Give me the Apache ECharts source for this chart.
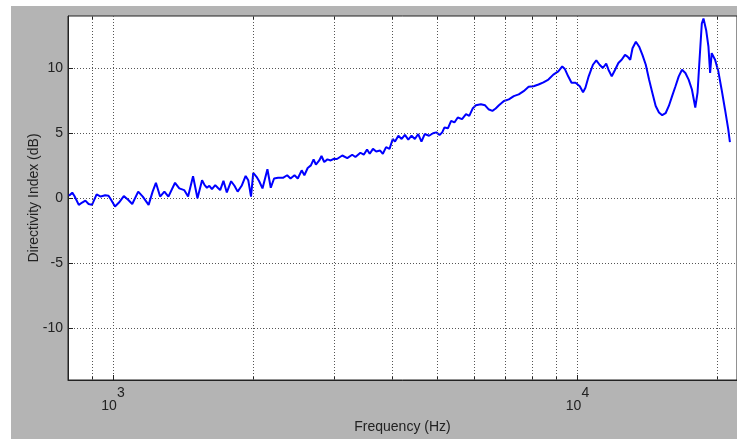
<!DOCTYPE html>
<html>
<head>
<meta charset="utf-8">
<script src="https://cdn.jsdelivr.net/npm/echarts@6/dist/echarts.min.js"></script>
<style>
html,body{margin:0;padding:0;background:#fff;}
#bg{position:absolute;left:11px;top:6px;width:726px;height:433px;background:#b4b4b4;}
#chart{position:absolute;left:0;top:0;width:737px;height:439px;}
</style>
</head>
<body>
<div id="bg"></div>
<div id="chart"></div>
<script>
// Frequency (Hz)
var freqs = [804,817,826,844,858,872,886,901,922,941,962,978,989,1010,1030,1055,1079,1100,1133,1159,1193,1217,1237,1263,1290,1316,1360,1389,1423,1451,1487,1520,
1555,1575,1593,1612,1633,1660,1681,1701,1729,1758,1796,1826,1855,1892,1930,1955,1982,2004,2037,2064,2098,2150,2186,2222,2266,2322,2371,2411,2459,2499,2548,2582,2625,2667,2703,2734,2780,2811,2849,2895,2942,2992,3035,
3116,3194,3273,3326,3409,3466,3523,3570,3628,3687,3760,3810,3872,3938,4002,4047,4115,4182,4251,4322,4393,4465,4540,4614,4689,4791,4886,4966,5047,5114,5172,5260,5345,5433,5524,5642,5754,5848,5946,
6043,6193,6325,6431,6559,6666,6775,6943,7115,7292,7473,7658,7848,8043,8243,8447,8657,8872,9092,9272,9395,9549,9709,9903,10114,10279,10400,10570,10796,10977,11157,11339,
11529,11660,11851,12050,12247,12447,12656,12818,12989,13136,13357,13576,13797,14029,14258,14491,14735,14976,15220,15476,15728,15985,16254,16519,16789,17072,17350,17634,17930,18133,18312,18520,18675,18924,19139,19299,19451,19778,20101,20429,20773,21112,21289];
// Directivity index (dB)
var dbs = [0.18,0.41,0.15,-0.53,-0.35,-0.2,-0.46,-0.53,0.28,0.11,0.21,0.18,-0.1,-0.65,-0.35,0.15,-0.15,-0.46,0.49,0.11,-0.53,0.49,1.17,0.11,0.49,0.11,1.17,0.74,0.61,0.11,1.67,-0.02,
1.37,0.99,0.79,0.94,0.68,0.99,0.79,0.61,1.32,0.43,1.29,0.94,0.49,0.94,1.7,1.37,0.11,1.93,1.63,1.29,0.74,2.21,0.79,1.5,1.55,1.55,1.75,1.5,1.75,1.5,2.13,1.75,2.31,2.51,2.97,2.56,2.89,3.23,2.77,2.97,2.89,3.02,3.0,
3.27,3.07,3.33,3.15,3.48,3.33,3.73,3.4,3.78,3.58,3.65,3.4,3.91,3.78,4.54,4.34,4.79,4.54,4.85,4.49,4.79,4.54,4.92,4.34,4.92,4.79,4.98,5.05,4.85,5.05,5.43,5.36,5.94,5.81,6.19,6.07,6.45,6.32,6.88,
7.13,7.21,7.13,6.83,6.7,6.88,7.13,7.46,7.59,7.84,7.97,8.22,8.55,8.6,8.73,8.9,9.11,9.49,9.74,10.12,9.92,9.36,8.86,8.86,8.6,8.14,8.48,9.36,10.25,10.58,10.25,10.0,
10.33,9.87,9.36,9.87,10.38,10.63,11.01,10.88,10.63,11.52,12.02,11.64,11.01,10.25,9.11,8.1,7.08,6.58,6.37,6.52,7.08,7.84,8.6,9.36,9.87,9.62,9.11,8.35,6.96,8.1,10.63,13.42,13.8,12.91,11.64,9.62,11.14,10.63,9.74,8.35,6.83,5.3,4.29];
// Axis ticks
var minorTicks = [900,2000,3000,4000,5000,6000,7000,8000,9000,20000];
var yTicks = [-10,-5,0,5,10];
var xMin = 800, xMax = 22050, yMin = -14, yMax = 14;

var FONT = "'Liberation Sans', Arial, Helvetica, sans-serif";
var TXT = '#222';
var chart = echarts.init(document.getElementById('chart'), null, {renderer:'canvas'});
var data = freqs.map(function(f,i){return [f, dbs[i]];});

function isPow10(v){ var l = Math.log10(v); return Math.abs(l - Math.round(l)) < 1e-6; }

var gridLine = {type:[1,2], color:'#555', width:1};
var baseX = {type:'log', logBase:10, min:xMin, max:xMax, gridIndex:0};

chart.setOption({
  animation:false,
  backgroundColor:'transparent',
  textStyle:{fontFamily:FONT},
  grid:{left:68, top:16, width:676, height:367, show:true, backgroundColor:'#fff', borderColor:'#222', borderWidth:1, containLabel:false},
  xAxis:[
    Object.assign({}, baseX, {
      position:'bottom',
      name:'Frequency (Hz)', nameLocation:'middle', nameGap:40, nameMoveOverlap:false,
      nameTextStyle:{fontSize:14, color:TXT, fontFamily:FONT},
      axisLine:{show:true, onZero:false, lineStyle:{color:'#222', width:1}},
      axisTick:{show:true, inside:true, length:5, lineStyle:{color:'#222'}},
      axisLabel:{
        show:true, margin:6, showMinLabel:false, showMaxLabel:false,
        formatter:function(v){ if(!isPow10(v)) return ''; return '{b|10}{s|' + Math.round(Math.log10(v)) + '}'; },
        rich:{
          b:{fontSize:14, color:TXT, fontFamily:FONT, lineHeight:27, verticalAlign:'bottom'},
          s:{fontSize:14, color:TXT, fontFamily:FONT, lineHeight:13, verticalAlign:'top'}
        }
      },
      splitLine:{show:true, lineStyle:gridLine}
    }),
    Object.assign({}, baseX, {
      position:'bottom',
      axisLine:{show:false, onZero:false},
      axisTick:{show:true, inside:true, length:3, customValues:minorTicks, lineStyle:{color:'#222'}},
      axisLabel:{show:false},
      splitLine:{show:false}
    }),
    Object.assign({}, baseX, {
      position:'top',
      axisLine:{show:false, onZero:false},
      axisTick:{show:true, inside:true, length:3, customValues:minorTicks, lineStyle:{color:'#222'}},
      axisLabel:{show:false},
      splitLine:{show:false}
    })
  ],
  yAxis:[{
    type:'value', min:yMin, max:yMax, splitNumber:5,
    name:'Directivity Index (dB)', nameLocation:'middle', nameGap:27, nameMoveOverlap:false,
    nameTextStyle:{fontSize:14, color:TXT, fontFamily:FONT},
    axisLine:{show:true, onZero:false, lineStyle:{color:'#222'}},
    axisTick:{show:true, inside:true, length:5, customValues:yTicks, lineStyle:{color:'#222'}},
    axisLabel:{show:true, margin:5, fontSize:14, color:TXT, fontFamily:FONT, customValues:yTicks,
      formatter:function(v){ return yTicks.indexOf(v) >= 0 ? String(v) : ''; }},
    splitLine:{show:true, lineStyle:gridLine}
  }],
  series:[
    {
      type:'line', xAxisIndex:0, yAxisIndex:0, data:[], z:1, silent:true,
      markLine:{
        silent:true, symbol:['none','none'], animation:false,
        label:{show:false},
        lineStyle:gridLine,
        data:minorTicks.map(function(v){ return {xAxis:v}; })
      }
    },
    {
      type:'line', xAxisIndex:0, yAxisIndex:0, data:data, z:3,
      showSymbol:false, symbol:'none', smooth:false, clip:true,
      lineStyle:{color:'#0000ff', width:2},
      emphasis:{disabled:true}
    }
  ]
});
</script>
</body>
</html>
